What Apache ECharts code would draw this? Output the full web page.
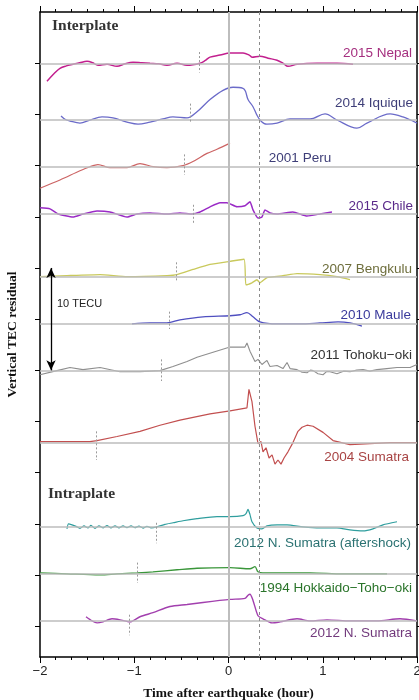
<!DOCTYPE html>
<html>
<head>
<meta charset="utf-8">
<script src="https://cdn.jsdelivr.net/npm/echarts@6/dist/echarts.min.js"></script>
<style>
  html, body { margin: 0; padding: 0; background: #fff; }
  #chart { width: 419px; height: 700px; }
</style>
</head>
<body>
<div id="chart"></div>
<script>
// Vertical TEC residual traces, [time after earthquake (h), residual (TECU)]
const nepal = [[-1.926,-1.76],[-1.85,-1.0],[-1.788,-0.49],[-1.72,-0.25],[-1.65,-0.1],[-1.58,0.05],[-1.501,0.2],[-1.44,0.05],[-1.385,-0.2],[-1.289,-0.1],[-1.183,-0.3],[-1.10,-0.05],[-1.013,0.1],[-0.92,0.05],[-0.833,0.0],[-0.74,-0.05],[-0.653,-0.2],[-0.546,0.0],[-0.44,-0.2],[-0.302,0.0],[-0.25,0.25],[-0.196,0.6],[-0.09,0.8],[0.016,1.0],[0.154,1.0],[0.22,0.8],[0.249,0.6],[0.334,0.7],[0.42,0.5],[0.515,0.3],[0.58,0.0],[0.631,-0.3],[0.727,-0.1],[0.939,0.0],[1.151,0.0],[1.321,-0.1]];
const iquique = [[-1.777,0.4],[-1.73,0.05],[-1.682,-0.1],[-1.576,-0.3],[-1.47,0.0],[-1.342,0.3],[-1.225,0.2],[-1.077,-0.2],[-0.96,-0.4],[-0.833,-0.2],[-0.695,0.1],[-0.589,0.3],[-0.44,0.2],[-0.334,0.8],[-0.196,2.0],[-0.058,2.9],[0.048,3.2],[0.154,3.1],[0.18,2.8],[0.207,2.0],[0.26,1.3],[0.30,0.5],[0.334,0.0],[0.38,-0.35],[0.408,-0.4],[0.515,-0.3],[0.653,0.1],[0.865,0.1],[1.024,0.6],[1.151,0.0],[1.363,-0.8],[1.469,-0.3],[1.714,0.6],[1.851,0.3],[2.0,-0.3]];
const peru = [[-2.0,-2.1],[-1.788,-1.3],[-1.576,-0.4],[-1.47,0.0],[-1.385,0.2],[-1.257,-0.1],[-1.077,-0.1],[-0.939,0.3],[-0.801,0.0],[-0.653,-0.1],[-0.483,0.1],[-0.377,0.5],[-0.228,1.3],[-0.122,1.7],[0.016,2.3]];
const chile = [[-2.0,0.6],[-1.894,0.5],[-1.809,0.0],[-1.65,-0.3],[-1.544,0.0],[-1.395,0.3],[-1.257,0.2],[-1.077,-0.3],[-0.971,0.0],[-0.833,0.1],[-0.653,0.0],[-0.515,0.1],[-0.387,0.0],[-0.302,0.2],[-0.196,0.7],[-0.09,1.1],[-0.016,1.1],[0.09,0.7],[0.175,0.8],[0.228,1.2],[0.26,0.4],[0.313,-0.4],[0.355,-0.3],[0.387,0.4],[0.44,0.1],[0.515,0.0],[0.684,0.2],[0.833,-0.2],[0.971,0.0],[1.098,0.2]];
const bengkulu = [[-2.0,0.0],[-1.714,0.1],[-1.363,0.2],[-1.077,0.0],[-0.653,0.1],[-0.546,0.2],[-0.377,0.7],[-0.196,1.2],[0.016,1.5],[0.165,1.7],[0.185,-0.8],[0.249,-0.6],[0.302,-0.3],[0.334,-0.6],[0.408,-0.1],[0.578,0.1],[0.727,0.3],[0.971,0.2],[1.151,0.0],[1.289,-0.3]];
const maule = [[-1.024,0.0],[-0.833,0.1],[-0.653,0.1],[-0.515,0.4],[-0.271,0.7],[0.016,0.8],[0.122,0.9],[0.196,1.1],[0.26,0.7],[0.334,0.2],[0.515,0.0],[0.759,0.0],[0.971,0.1],[1.162,0.2],[1.289,0.1],[1.416,-0.2]];
const tohoku = [[-2.0,-0.4],[-1.82,0.0],[-1.682,0.3],[-1.544,0.1],[-1.363,0.3],[-1.151,-0.1],[-0.939,-0.1],[-0.727,0.0],[-0.589,0.4],[-0.44,0.9],[-0.334,1.3],[-0.164,1.8],[0.016,2.3],[0.175,2.3],[0.196,2.7],[0.228,1.9],[0.281,0.9],[0.313,1.1],[0.355,0.6],[0.408,1.0],[0.44,0.4],[0.515,0.5],[0.578,0.2],[0.621,0.8],[0.653,0.2],[0.727,0.1],[0.78,-0.15],[0.833,-0.2],[0.87,0.05],[0.897,0.0],[0.95,-0.3],[1.003,-0.4],[1.04,-0.1],[1.077,-0.1],[1.151,-0.3],[1.22,-0.05],[1.289,-0.1],[1.36,0.05],[1.427,0.1],[1.50,-0.05],[1.576,0.1],[1.68,0.2],[1.788,0.3],[1.926,0.3],[2.0,0.6]];
const sumatra2004 = [[-2.0,0.1],[-1.714,0.1],[-1.47,0.1],[-1.395,0.2],[-1.183,0.6],[-0.939,1.1],[-0.727,1.7],[-0.515,2.2],[-0.196,2.8],[0.016,3.1],[0.196,3.4],[0.217,5.2],[0.249,4.0],[0.281,1.6],[0.313,-0.1],[0.345,0.1],[0.366,-0.9],[0.398,-0.5],[0.43,-1.5],[0.462,-1.2],[0.493,-2.1],[0.525,-1.7],[0.557,-2.1],[0.589,-1.5],[0.631,-0.9],[0.684,0.0],[0.737,1.1],[0.78,1.5],[0.833,1.7],[0.897,1.6],[1.003,1.0],[1.109,0.2],[1.289,-0.2],[1.501,-0.1],[1.714,0.0],[2.0,0.0]];
const aftershock2012 = [[-1.714,-0.2],[-1.698,0.3],[-1.66,0.2],[-1.618,0.05],[-1.576,-0.15],[-1.533,0.1],[-1.491,-0.1],[-1.459,0.15],[-1.416,-0.15],[-1.374,0.1],[-1.332,-0.1],[-1.289,0.12],[-1.247,-0.1],[-1.204,0.1],[-1.162,-0.1],[-1.119,0.1],[-1.077,-0.08],[-1.034,0.1],[-0.992,-0.08],[-0.95,0.08],[-0.907,-0.12],[-0.865,0.06],[-0.822,-0.1],[-0.759,0.0],[-0.674,0.25],[-0.589,0.4],[-0.483,0.6],[-0.334,0.8],[-0.122,1.0],[0.016,1.0],[0.154,1.1],[0.186,1.3],[0.207,1.7],[0.228,1.2],[0.249,0.5],[0.302,-0.1],[0.355,-0.2],[0.408,0.1],[0.515,0.2],[0.621,0.2],[0.79,0.0],[0.971,-0.1],[1.151,-0.1],[1.289,-0.3],[1.427,-0.4],[1.533,-0.2],[1.639,0.2],[1.788,0.5]];
const hokkaido1994 = [[-2.0,0.1],[-1.714,0.0],[-1.363,-0.1],[-1.183,0.0],[-0.971,0.1],[-0.801,0.2],[-0.546,0.4],[-0.334,0.55],[0.016,0.6],[0.228,0.5],[0.281,0.7],[0.313,0.2],[0.366,0.1],[0.546,0.1],[0.865,0.1],[1.215,0.0],[1.682,0.0]];
const nSumatra2012 = [[-1.512,0.4],[-1.448,0.0],[-1.395,-0.2],[-1.332,-0.1],[-1.236,0.2],[-1.151,0.1],[-1.045,-0.1],[-0.939,0.4],[-0.801,0.8],[-0.621,1.4],[-0.44,1.6],[-0.271,1.8],[0.016,2.1],[0.175,2.2],[0.207,2.5],[0.228,2.6],[0.26,2.0],[0.313,0.5],[0.366,0.2],[0.462,-0.2],[0.546,-0.1],[0.727,0.2],[0.865,0.0],[1.045,0.1],[1.289,0.0],[1.576,0.0],[1.82,0.2],[2.0,0.0]];

const eventNames = ['2015 Nepal','2014 Iquique','2001 Peru','2015 Chile','2007 Bengkulu','2010 Maule','2011 Tohoku\u2212oki','2004 Sumatra','2012 N. Sumatra (aftershock)','1994 Hokkaido\u2212Toho\u2212oki','2012 N. Sumatra'];
const traces = [nepal, iquique, peru, chile, bengkulu, maule, tohoku, sumatra2004, aftershock2012, hokkaido1994, nSumatra2012];
// stacking offset of each trace's zero line below the top of the frame (TECU)
const offsets = [5.01, 10.55, 15.11, 19.73, 25.85, 30.47, 35.03, 42.06, 50.29, 54.88, 59.47];
// onset marks: time (h) and vertical extent relative to the trace's zero line (TECU)
const onsetTimes = [-0.31, -0.41, -0.47, -0.37, -0.55, -0.63, -0.71, -1.40, -0.77, -0.97, -1.05];
const onsetUpper = [1.1, 1.6, 1.2, 0.9, 1.4, 1.2, 1.1, 1.1, 0.4, 1.1, 0.6];
const onsetLower = [-0.9, -0.3, -0.8, -1.0, -0.5, -0.5, -1.0, -1.7, -1.6, -0.9, -1.4];
const yTicks = [-5,-10,-15,-20,-25,-30,-35,-40,-45,-50,-55,-60];
const xTicks = [-2,-1,0,1,2];
const scaleBar = [-25, -35]; // 10 TECU
const arrivalTime = 1 / 3;

// styling
const lineColors = ['#c21f8e','#6b6bc9','#cc6464','#9a2bc6','#c9c95c','#4f4fc0','#8f8f8f','#c24f4f','#2f9e9e','#3a963a','#a23fae'];
const labelColors = ['#a52f7f','#3e3e78','#3e3e78','#5a2a8a','#6e6e3c','#3a3a9c','#333333','#a84444','#2b7272','#2a742a','#723a7c'];
const lineWidths = [1.5,1.3,1.2,1.5,1.3,1.3,1.1,1.2,1.2,1.3,1.4];
const smoothness = [0.35,0.35,0.3,0.15,0.15,0.3,0,0,0.2,0.3,0.25];
const labelPos = [[412,53,'right'],[413,103,'right'],[300,158,'center'],[413,206,'right'],[412,269,'right'],[411,315,'right'],[412,355,'right'],[409,457,'right'],[411,543,'right'],[412,588,'right'],[412,633,'right']];

const sansFont = '"Liberation Sans", Arial, Helvetica, sans-serif';
const serifFont = '"Liberation Serif", "Times New Roman", serif';

const refLines = [];
offsets.forEach(o => refLines.push({ yAxis: -o, lineStyle: { color: '#bdbdbd', width: 1.5, type: 'solid' } }));
refLines.push({ xAxis: 0, lineStyle: { color: '#bdbdbd', width: 2, type: 'solid' } });
refLines.push({ xAxis: arrivalTime, lineStyle: { color: '#8a8a8a', width: 1, type: [3, 3] } });
onsetTimes.forEach((t, i) => {
  refLines.push([
    { coord: [t, -offsets[i] + onsetUpper[i]], lineStyle: { color: '#9a9a9a', width: 1, type: [2, 2] } },
    { coord: [t, -offsets[i] + onsetLower[i]] }
  ]);
});

const series = [
  {
    type: 'line', data: [], z: 1, silent: true,
    markLine: { silent: true, symbol: 'none', animation: false, label: { show: false }, data: refLines }
  },
  {
    type: 'line', data: [], z: 5, silent: true,
    markLine: {
      silent: true, animation: false, symbol: ['arrow', 'arrow'], symbolSize: [7, 10],
      label: { show: false },
      lineStyle: { color: '#000', width: 1.3, type: 'solid' },
      data: [[{ coord: [-1.883, scaleBar[0]] }, { coord: [-1.883, scaleBar[1]] }]]
    }
  }
];
traces.forEach((tr, i) => {
  series.push({
    name: eventNames[i], type: 'line', z: 3,
    data: tr.map(p => [p[0], p[1] - offsets[i]]),
    showSymbol: false, symbol: 'none',
    smooth: smoothness[i] || false,
    lineStyle: { color: lineColors[i], width: lineWidths[i] },
    animation: false
  });
});

const graphics = eventNames.map((n, i) => ({
  type: 'text', x: labelPos[i][0], y: labelPos[i][1], z: 10,
  style: { text: n, fill: labelColors[i], font: '13.5px ' + sansFont, align: labelPos[i][2], verticalAlign: 'middle' }
}));
graphics.push({ type: 'text', x: 52, y: 26, z: 10, style: { text: 'Interplate', fill: '#333', font: 'bold 15.5px ' + serifFont, align: 'left', verticalAlign: 'middle' } });
graphics.push({ type: 'text', x: 48, y: 494, z: 10, style: { text: 'Intraplate', fill: '#333', font: 'bold 15.5px ' + serifFont, align: 'left', verticalAlign: 'middle' } });
graphics.push({ type: 'text', x: 57, y: 304, z: 10, style: { text: '10 TECU', fill: '#222', font: '11px ' + sansFont, align: 'left', verticalAlign: 'middle' } });

const fmtX = v => (v < 0 ? '\u2212' : '') + Math.abs(v);
const xCommon = {
  type: 'value', min: xTicks[0], max: xTicks[xTicks.length - 1], interval: 1,
  axisLine: { show: true, onZero: false, lineStyle: { color: '#000', width: 1.5 } },
  axisTick: { show: true, inside: false, length: 6, lineStyle: { color: '#000', width: 1 } },
  minorTick: { show: true, splitNumber: 6, length: 3, lineStyle: { color: '#000', width: 1 } },
  splitLine: { show: false }, minorSplitLine: { show: false }
};
const yCommon = {
  type: 'value', min: -63, max: 0,
  axisLine: { show: true, onZero: false, lineStyle: { color: '#000', width: 1.5 } },
  axisTick: { show: true, inside: false, length: 5, customValues: yTicks, lineStyle: { color: '#000', width: 1 } },
  axisLabel: { show: false },
  splitLine: { show: false }
};

const option = {
  animation: false,
  backgroundColor: '#fff',
  grid: { left: 40, right: 2, top: 12, bottom: 43, containLabel: false, outerBoundsMode: 'none' },
  xAxis: [
    Object.assign({}, xCommon, {
      position: 'bottom',
      axisLabel: { show: true, margin: 8, fontSize: 13, color: '#222', fontFamily: sansFont, formatter: fmtX },
      name: 'Time after earthquake (hour)', nameLocation: 'middle', nameGap: 30,
      nameTextStyle: { fontFamily: serifFont, fontWeight: 'bold', fontSize: 13.5, color: '#111' }
    }),
    Object.assign({}, xCommon, { position: 'top', axisLabel: { show: false } })
  ],
  yAxis: [
    Object.assign({}, yCommon, {
      position: 'left',
      name: 'Vertical TEC residual', nameLocation: 'middle', nameGap: 20,
      nameTextStyle: { fontFamily: serifFont, fontWeight: 'bold', fontSize: 13.5, color: '#111' }
    }),
    Object.assign({}, yCommon, { position: 'right' })
  ],
  series: series,
  graphic: graphics
};

const chart = echarts.init(document.getElementById('chart'), null, { renderer: 'canvas' });
chart.setOption(option);
</script>
</body>
</html>
